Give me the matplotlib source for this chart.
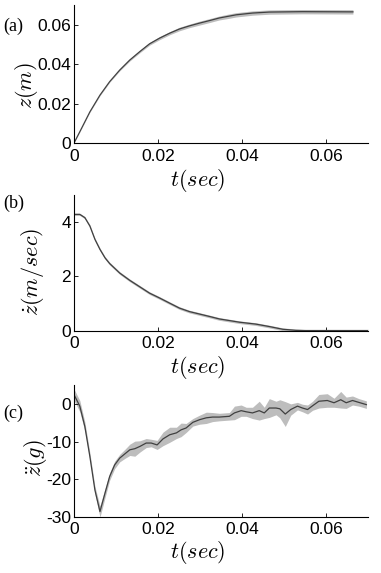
import matplotlib
matplotlib.use("Agg")
import matplotlib.pyplot as plt
import numpy as np

plt.rcParams['font.family'] = ['Liberation Sans', 'DejaVu Sans']
plt.rcParams['mathtext.fontset'] = 'cm'
plt.rcParams['axes.unicode_minus'] = False

# ---- data ----
t_a = [0, 0.0014, 0.0038, 0.0062, 0.0085, 0.0109, 0.0133, 0.0157, 0.018, 0.0204,
       0.0228, 0.0251, 0.0275, 0.0299, 0.0323, 0.0346, 0.0366, 0.0386, 0.0425,
       0.0465, 0.0544, 0.0664]
z_a = [0, 0.0058, 0.0159, 0.0244, 0.0312, 0.0371, 0.0422, 0.0465, 0.0504, 0.0533,
       0.0558, 0.0579, 0.0595, 0.0609, 0.0622, 0.0635, 0.0643, 0.0651, 0.0660,
       0.0665, 0.0667, 0.0666]
sd_a = [0, 0.0001, 0.0002, 0.0003, 0.0003, 0.0004, 0.0005, 0.0006, 0.0007, 0.0008,
        0.0008, 0.0009, 0.0009, 0.0010, 0.0010, 0.0010, 0.0011, 0.0011, 0.0011,
        0.0011, 0.0011, 0.0011]

t_b = [0, 0.0014, 0.0026, 0.0038, 0.005, 0.0062, 0.0074, 0.0085, 0.0109, 0.0133,
       0.0157, 0.018, 0.0204, 0.0228, 0.0251, 0.0275, 0.0299, 0.0323, 0.0346,
       0.0394, 0.0433, 0.0465, 0.0497, 0.0528, 0.055, 0.06, 0.065, 0.07]
v_b = [4.28, 4.28, 4.16, 3.85, 3.36, 2.99, 2.68, 2.47, 2.12, 1.85,
       1.61, 1.38, 1.20, 1.01, 0.83, 0.70, 0.61, 0.52, 0.43,
       0.31, 0.24, 0.15, 0.05, 0.01, 0.0, 0.0, 0.0, 0.0]
sd_b = [0.04, 0.04, 0.04, 0.05, 0.05, 0.05, 0.05, 0.05, 0.05, 0.05,
        0.05, 0.05, 0.05, 0.05, 0.05, 0.05, 0.05, 0.05, 0.05,
        0.05, 0.05, 0.05, 0.05, 0.05, 0.05, 0.05, 0.05, 0.05]

t_c = [0, 0.0014, 0.0026, 0.0038, 0.005, 0.0062, 0.0074, 0.0085, 0.0097, 0.0109,
       0.0121, 0.0133, 0.0145, 0.0157, 0.0172, 0.0184, 0.0198, 0.0212, 0.0228,
       0.0244, 0.0255, 0.0267, 0.0283, 0.0299, 0.0315, 0.033, 0.0346, 0.037,
       0.0382, 0.0398, 0.041, 0.0425, 0.0441, 0.0453, 0.0465, 0.0481, 0.049,
       0.0503, 0.0516, 0.0532, 0.0544, 0.0556, 0.0568, 0.0583, 0.0603, 0.0619,
       0.0635, 0.0648, 0.0663, 0.0678, 0.0696]
a_c = [2.5, -0.6, -6, -14, -22.9, -28.6, -23.7, -19.3, -16.2, -14.4,
       -13.3, -12.2, -11.9, -11.3, -10.4, -10.4, -10.9, -9.3, -8.2,
       -7.7, -6.9, -6.4, -4.9, -4.2, -3.7, -3.5, -3.5, -3.3,
       -2.4, -1.8, -2.1, -2.4, -1.8, -2.4, -1.1, -1.1, -1.3,
       -2.7, -1.5, -0.6, -1.1, -1.5, -0.5, 0.7, 0.9, 0.3,
       1.1, 0.3, 0.9, 0.4, -0.2]
sd_c = [1.5, 1.5, 1.2, 1.0, 1.0, 1.5, 1.2, 1.0, 1.0, 1.0,
        1.2, 1.5, 2.0, 1.5, 1.2, 1.0, 1.2, 1.8, 2.0,
        1.5, 1.8, 1.2, 1.0, 1.2, 1.5, 1.2, 1.0, 1.0,
        1.8, 1.5, 1.2, 1.5, 2.5, 1.5, 2.5, 1.8, 2.4,
        3.3, 1.5, 1.0, 1.0, 1.2, 1.2, 1.8, 1.8, 1.2,
        2.2, 1.5, 1.2, 1.0, 1.0]

x_ticks = [0, 0.02, 0.04, 0.06]
x_ticklabels = ['0', '0.02', '0.04', '0.06']
yticks_a = [0, 0.02, 0.04, 0.06]
yticklabels_a = ['0', '0.02', '0.04', '0.06']
yticks_b = [0, 2, 4]
yticklabels_b = ['0', '2', '4']
yticks_c = [0, -10, -20, -30]
yticklabels_c = ['0', '-10', '-20', '-30']

panels = [
    dict(t=t_a, m=z_a, s=sd_a, ylim=(0, 0.07), yt=yticks_a, ytl=yticklabels_a,
         ylabel=r'$z(m)$', tag='(a)', tagy=0.954, ylx=-0.115, yly=0.42,
         pos=[0.194, 0.750, 0.772, 0.241]),
    dict(t=t_b, m=v_b, s=sd_b, ylim=(0, 5), yt=yticks_b, ytl=yticklabels_b,
         ylabel=r'$\dot{z}(m/sec)$', tag='(b)', tagy=0.645, ylx=-0.095, yly=0.43,
         pos=[0.194, 0.423, 0.772, 0.237]),
    dict(t=t_c, m=a_c, s=sd_c, ylim=(-30, 5), yt=yticks_c, ytl=yticklabels_c,
         ylabel=r'$\ddot{z}(g)$', tag='(c)', tagy=0.279, ylx=-0.085, yly=0.45,
         pos=[0.194, 0.098, 0.772, 0.230]),
]

fig = plt.figure(figsize=(3.81, 5.73), dpi=100)
for p in panels:
    ax = fig.add_axes(p['pos'])
    t = np.array(p['t']); m = np.array(p['m']); s = np.array(p['s'])
    ax.fill_between(t, m - s, m + s, color='#bdbdbd', linewidth=0, zorder=1)
    ax.plot(t, m, color='#404040', linewidth=0.9, zorder=2)
    ax.set_xlim(0, 0.07)
    ax.set_ylim(*p['ylim'])
    ax.set_xticks(x_ticks)
    ax.set_xticklabels(x_ticklabels)
    ax.set_yticks(p['yt'])
    ax.set_yticklabels(p['ytl'])
    for sp in ['top', 'right']:
        ax.spines[sp].set_visible(False)
    for sp in ['left', 'bottom']:
        ax.spines[sp].set_linewidth(0.8)
    ax.tick_params(direction='in', length=3, width=0.6, labelsize=12.5)
    ax.tick_params(axis='y', pad=2)
    ax.tick_params(axis='x', pad=4)
    ax.set_xlabel(r'$t(sec)$', fontsize=16, labelpad=0)
    ax.xaxis.set_label_coords(0.42, -0.17)
    ax.set_ylabel(p['ylabel'], fontsize=16, labelpad=0)
    ax.yaxis.set_label_coords(p['ylx'], p['yly'])
    fig.text(0.036, p['tagy'], p['tag'],
             family=['Liberation Serif', 'DejaVu Serif'], fontsize=13,
             ha='center', va='center')

fig.savefig('out.png', dpi=100)
